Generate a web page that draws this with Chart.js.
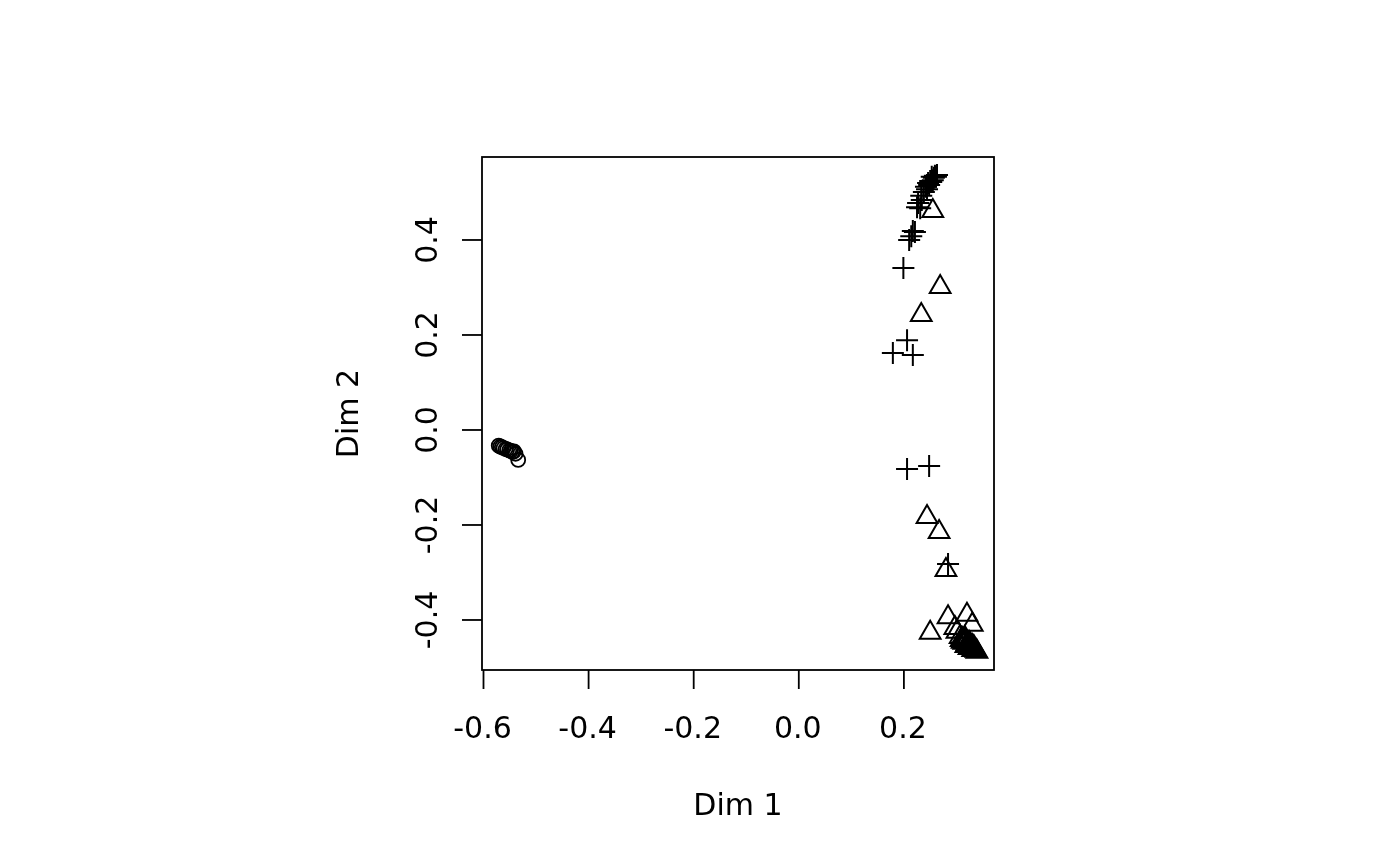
<!DOCTYPE html>
<html>
<head>
<meta charset="utf-8">
<script src="https://cdn.jsdelivr.net/npm/chart.js@4"></script>
<style>
  html, body { margin: 0; padding: 0; background: #ffffff; }
  #wrap { width: 1400px; height: 866px; position: relative; }
</style>
</head>
<body>
<div id="wrap"><canvas id="mdsChart"></canvas></div>
<script>
// group 1 (circles)
const circleX = [-0.571, -0.568, -0.565, -0.562, -0.558, -0.555, -0.551, -0.548, -0.545, -0.542, -0.539, -0.534];
const circleY = [-0.033, -0.035, -0.036, -0.038, -0.040, -0.041, -0.043, -0.044, -0.046, -0.045, -0.050, -0.063];

// group 2 (triangles)
const triangleX = [0.255, 0.269, 0.233, 0.244, 0.267, 0.280, 0.250, 0.284, 0.320, 0.330, 0.297, 0.301,
  0.307, 0.311, 0.312, 0.316, 0.314, 0.318, 0.320, 0.322, 0.324, 0.326, 0.328, 0.330, 0.331,
  0.333, 0.335, 0.337, 0.331, 0.324, 0.318, 0.311, 0.309, 0.326, 0.333, 0.339, 0.316];
const triangleY = [0.461, 0.301, 0.242, -0.183, -0.215, -0.295, -0.427, -0.394, -0.389, -0.410, -0.417, -0.425,
  -0.436, -0.440, -0.444, -0.442, -0.448, -0.446, -0.451, -0.453, -0.448, -0.455, -0.457, -0.455, -0.459,
  -0.461, -0.463, -0.465, -0.463, -0.459, -0.455, -0.446, -0.442, -0.451, -0.457, -0.467, -0.438];

// group 3 (plus signs)
const plusX = [0.253, 0.246, 0.250, 0.257, 0.261, 0.242, 0.248, 0.252, 0.259, 0.255, 0.244, 0.263, 0.238,
  0.234, 0.227, 0.231, 0.225, 0.233, 0.210, 0.217, 0.214, 0.221, 0.199, 0.206, 0.179, 0.217,
  0.206, 0.248, 0.284];
const plusY = [0.533, 0.520, 0.524, 0.531, 0.533, 0.512, 0.516, 0.522, 0.535, 0.526, 0.507, 0.537, 0.501,
  0.484, 0.478, 0.467, 0.469, 0.493, 0.400, 0.419, 0.408, 0.417, 0.341, 0.189, 0.162, 0.158,
  -0.082, -0.076, -0.282];

const xTicks = [-0.6, -0.4, -0.2, 0.0, 0.2];
const xTickLabels = ["-0.6", "-0.4", "-0.2", "0.0", "0.2"];
const yTicks = [-0.4, -0.2, 0.0, 0.2, 0.4];
const yTickLabels = ["-0.4", "-0.2", "0.0", "0.2", "0.4"];
const xTitle = "Dim 1";
const yTitle = "Dim 2";

const toPoints = (xs, ys) => xs.map((x, i) => ({ x: x, y: ys[i] }));

const FONT = '30px "DejaVu Sans", sans-serif';

// R-style box, ticks and labels, placed with the chart's own scales
const rAxes = {
  id: 'rAxes',
  afterDraw(chart) {
    const ctx = chart.ctx;
    const a = chart.chartArea;
    const xs = chart.scales.x;
    const ys = chart.scales.y;
    ctx.save();
    ctx.strokeStyle = '#000';
    ctx.fillStyle = '#000';
    ctx.lineWidth = 1.8;
    ctx.strokeRect(a.left, a.top, a.right - a.left, a.bottom - a.top);

    ctx.font = FONT;
    ctx.textAlign = 'center';
    ctx.textBaseline = 'alphabetic';
    xTicks.forEach((v, i) => {
      const px = xs.getPixelForValue(v);
      ctx.beginPath();
      ctx.moveTo(px, a.bottom);
      ctx.lineTo(px, a.bottom + 19);
      ctx.stroke();
      ctx.fillText(xTickLabels[i], px - 1, 738);
    });

    yTicks.forEach((v, i) => {
      const py = ys.getPixelForValue(v);
      ctx.beginPath();
      ctx.moveTo(a.left, py);
      ctx.lineTo(a.left - 20, py);
      ctx.stroke();
      ctx.save();
      ctx.translate(437, py);
      ctx.rotate(-Math.PI / 2);
      ctx.fillText(yTickLabels[i], 0, 0);
      ctx.restore();
    });

    ctx.fillText(xTitle, (a.left + a.right) / 2, 815);
    ctx.save();
    ctx.translate(358, (a.top + a.bottom) / 2);
    ctx.rotate(-Math.PI / 2);
    ctx.fillText(yTitle, 0, 0);
    ctx.restore();
    ctx.restore();
  }
};

const ctx = document.getElementById('mdsChart').getContext('2d');
new Chart(ctx, {
  type: 'scatter',
  data: {
    datasets: [
      {
        label: 'group 1',
        data: toPoints(circleX, circleY),
        pointStyle: 'circle',
        pointRadius: 7,
        borderWidth: 1.8,
        borderColor: '#000',
        backgroundColor: 'rgba(0,0,0,0)'
      },
      {
        label: 'group 2',
        data: toPoints(triangleX, triangleY),
        pointStyle: 'triangle',
        pointRadius: 12,
        borderWidth: 2,
        borderColor: '#000',
        backgroundColor: 'rgba(0,0,0,0)'
      },
      {
        label: 'group 3',
        data: toPoints(plusX, plusY),
        pointStyle: 'cross',
        pointRadius: 11,
        borderWidth: 2,
        borderColor: '#000',
        backgroundColor: 'rgba(0,0,0,0)'
      }
    ]
  },
  options: {
    responsive: true,
    maintainAspectRatio: false,
    animation: false,
    events: [],
    layout: {
      padding: { left: 482, right: 406, top: 157, bottom: 196 }
    },
    scales: {
      x: { type: 'linear', min: -0.60285, max: 0.37146, display: false },
      y: { type: 'linear', min: -0.5053, max: 0.5747, display: false }
    },
    plugins: {
      legend: { display: false },
      tooltip: { enabled: false }
    }
  },
  plugins: [rAxes]
});
</script>
</body>
</html>
